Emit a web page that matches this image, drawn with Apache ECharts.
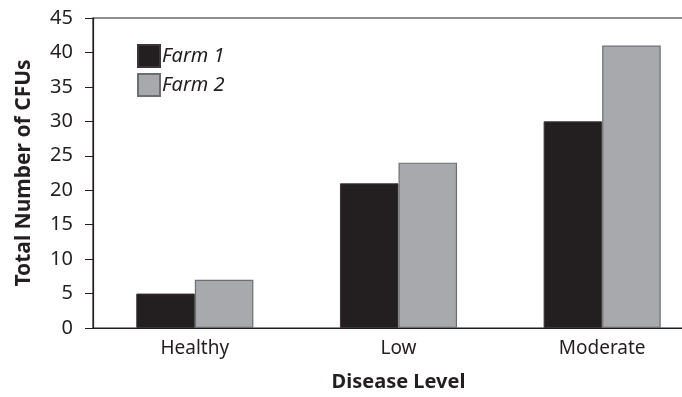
<!DOCTYPE html>
<html>
<head>
<meta charset="utf-8">
<script src="https://cdn.jsdelivr.net/npm/echarts@6/dist/echarts.min.js"></script>
<style>
  html, body { margin: 0; padding: 0; background: #fff; overflow: hidden; }
  /* the reference plot is cropped on the right, so the canvas runs past the window */
  #chart { width: 704px; height: 397px; }
</style>
</head>
<body>
<div id="chart"></div>
<script>
const categories = ["Healthy", "Low", "Moderate"];
const farm1 = [5, 21, 30];
const farm2 = [7, 24, 41];
const yTicks = [0, 5, 10, 15, 20, 25, 30, 35, 40, 45];

const font = "'Noto Sans', 'Open Sans', sans-serif";
const ink = "#231f20";

const chart = echarts.init(document.getElementById("chart"));
chart.setOption({
  animation: false,
  backgroundColor: "#fff",
  grid: {
    left: 93, right: 0, top: 18, bottom: 64,
    show: true, borderColor: ink, borderWidth: 1.2, backgroundColor: "transparent"
  },
  legend: {
    orient: "vertical",
    left: 132, top: 39,
    itemWidth: 22, itemHeight: 22, itemGap: 5,
    icon: "rect",
    textStyle: { fontFamily: font, fontSize: 20, fontStyle: "italic", color: ink, padding: [0, 0, 0, -3] },
    data: ["Farm 1", "Farm 2"]
  },
  xAxis: {
    type: "category",
    data: categories,
    name: "Disease Level",
    nameLocation: "middle",
    nameGap: 44,
    nameTextStyle: { fontFamily: font, fontSize: 20, fontWeight: "bold", color: ink },
    axisLine: { lineStyle: { color: ink, width: 1.2 } },
    axisTick: { length: 5, lineStyle: { color: ink } },
    axisLabel: { fontFamily: font, fontSize: 19, color: ink, margin: 11 }
  },
  yAxis: {
    type: "value",
    min: yTicks[0],
    max: yTicks[yTicks.length - 1],
    interval: 5,
    name: "Total Number of CFUs",
    nameLocation: "middle",
    nameGap: 58,
    nameTextStyle: { fontFamily: font, fontSize: 21, fontWeight: "bold", color: ink },
    axisLine: { show: true, lineStyle: { color: ink, width: 1.2 } },
    axisTick: { show: true, length: 8, lineStyle: { color: ink } },
    axisLabel: { fontFamily: font, fontSize: 20, color: ink, margin: 20 },
    splitLine: { show: false }
  },
  series: [
    {
      name: "Farm 1",
      type: "bar",
      data: farm1,
      barGap: "0%",
      barCategoryGap: "42.5%",
      itemStyle: { color: ink, borderColor: "#3a3637", borderWidth: 1 }
    },
    {
      name: "Farm 2",
      type: "bar",
      data: farm2,
      barGap: "0%",
      barCategoryGap: "42.5%",
      itemStyle: { color: "#a7a9ac", borderColor: "#6d6e71", borderWidth: 1.2 }
    }
  ]
});
</script>
</body>
</html>
